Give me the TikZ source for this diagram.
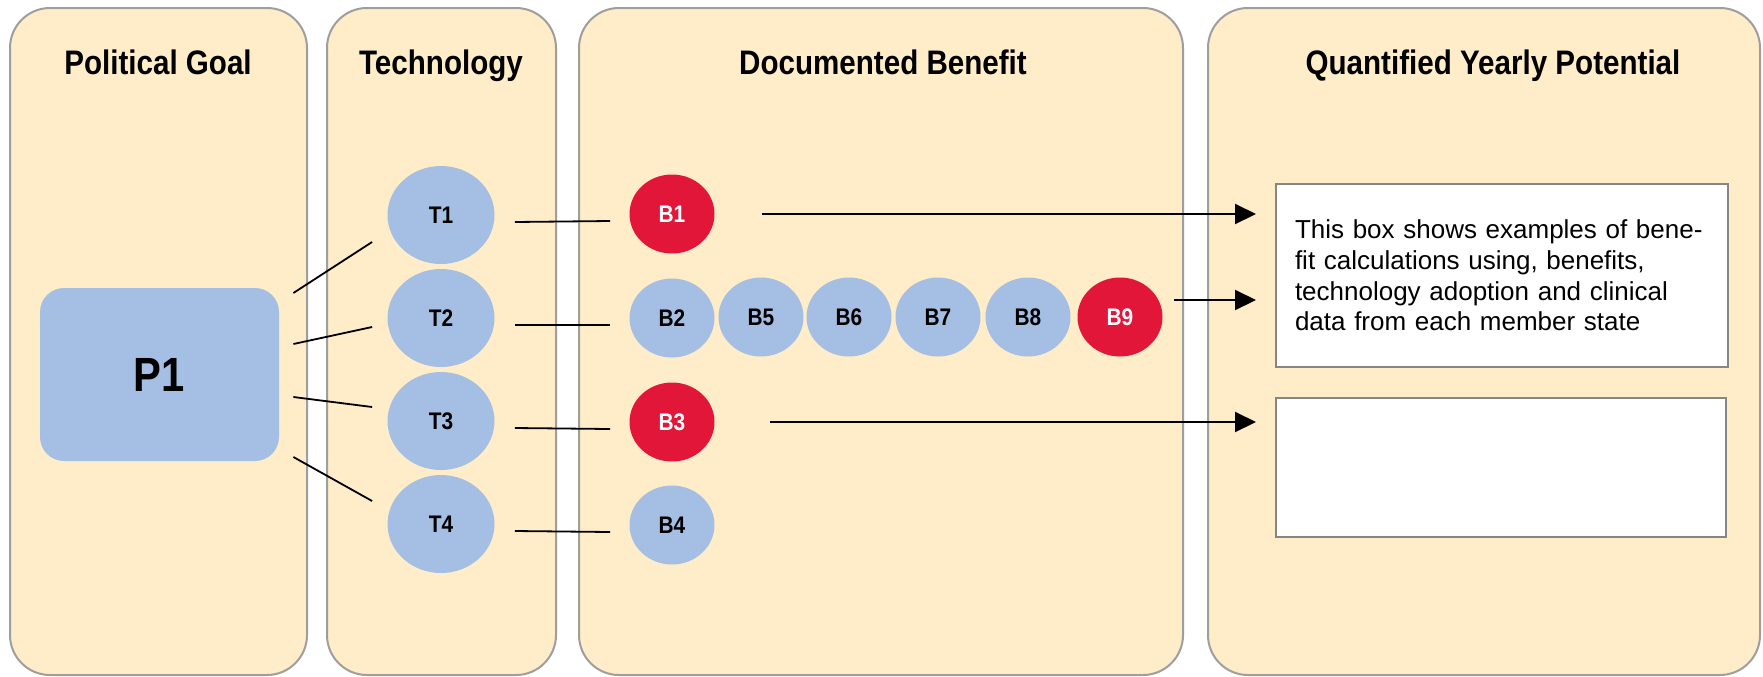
\documentclass[tikz,border=0pt]{standalone}
\usepackage{fontspec}
\setmainfont{Liberation Sans}
\newfontfamily\headfont{Liberation Sans}[FakeStretch=0.87]
\usetikzlibrary{shapes.geometric,arrows.meta}
\definecolor{panelfill}{RGB}{254,237,200}
\definecolor{panelline}{RGB}{158,158,158}
\definecolor{nodeblue}{RGB}{164,191,227}
\definecolor{nodered}{RGB}{226,22,56}

\begin{document}
\begin{tikzpicture}[x=0.5pt,y=-0.5pt,
	panel/.style={draw=panelline,line width=1pt,fill=panelfill,rounded corners=20pt},
	title/.style={anchor=base,font=\headfont\bfseries\fontsize{17}{20}\selectfont},
	goal/.style={fill=nodeblue,rounded corners=12pt,minimum width=119.5pt,minimum height=86.5pt,font=\headfont\bfseries\fontsize{24}{28}\selectfont},
	tech/.style={ellipse,fill=nodeblue,inner sep=0pt,minimum width=53.5pt,minimum height=49pt,font=\headfont\bfseries\fontsize{12}{14}\selectfont},
	ben/.style={ellipse,fill=nodeblue,inner sep=0pt,minimum width=42.5pt,minimum height=39.5pt,font=\headfont\bfseries\fontsize{12}{14}\selectfont},
	hot/.style={ben,fill=nodered,text=white},
	calcbox/.style={draw=panelline!85!black,line width=1pt,fill=white},
	link/.style={line width=0.9pt},
	arr/.style={line width=1pt,-{Triangle[length=10.5pt,width=10pt]}}]
	\fill[white] (0,0) rectangle (1763,676);
	\useasboundingbox (0,0) rectangle (1763,676);
	\draw[panel] (10,8) rectangle (307,675);
	\draw[panel] (327,8) rectangle (556,675);
	\draw[panel] (579,8) rectangle (1183,675);
	\draw[panel] (1208,8) rectangle (1760,675);
	\node[title] (tgoal) at (158,74) {Political Goal};
	\node[title] (ttech) at (441,74) {Technology};
	\node[title] (tben) at (883,74) {Documented Benefit};
	\node[title] (tpot) at (1493,74) {Quantified Yearly Potential};
	\node[goal] (P1) at (159.5,374.5) {P1};
	\foreach \i/\y in {1/215,2/318,3/421,4/524}
		\node[tech] (T\i) at (441,\y) {T\i};
	\node[hot] (B1) at (672,214) {B1};
	\node[ben] (B2) at (672,318) {B2};
	\node[hot] (B3) at (672,422) {B3};
	\node[ben] (B4) at (672,525) {B4};
	\foreach \i/\x in {5/761,6/849,7/938,8/1028}
		\node[ben] (B\i) at (\x,317) {B\i};
	\node[hot] (B9) at (1120,317) {B9};
	\node[calcbox,align=left,text width=207pt,inner xsep=9.5pt,minimum height=91.5pt,font=\fontsize{13}{15.3}\selectfont] (box1) at (1502,275.5)
		{This box shows examples of bene-\\fit calculations using, benefits,\\technology adoption and clinical\\data from each member state};
	\node[calcbox,minimum width=225pt,minimum height=69.5pt] (box2) at (1501,467.5) {};
	\foreach \i/\a/\b in {1/40.75/-13.5,2/15.25/-4.5,3/-11.25/7,4/-41.25/11.5}
		\draw[link] ([xshift=7pt,yshift=\a pt]P1.east) -- ([xshift=-7.5pt,yshift=\b pt]T\i.west);
	\foreach \i in {1,...,4}
		\draw[link] ([xshift=10pt,yshift=-3.5pt]T\i.east) -- ([xshift=-9.5pt,yshift=-3.5pt]B\i.west);
	\draw[arr] ([xshift=23.75pt]B1.east) -- ([xshift=-9.5pt]B1.east -| box1.west);
	\draw[arr] ([xshift=5.3pt,yshift=8.5pt]B9.east) -- ([xshift=-9.5pt,yshift=8.5pt]B9.east -| box1.west);
	\draw[arr] ([xshift=27.75pt]B3.east) -- ([xshift=-9.5pt]B3.east -| box2.west);
\end{tikzpicture}
\end{document}
